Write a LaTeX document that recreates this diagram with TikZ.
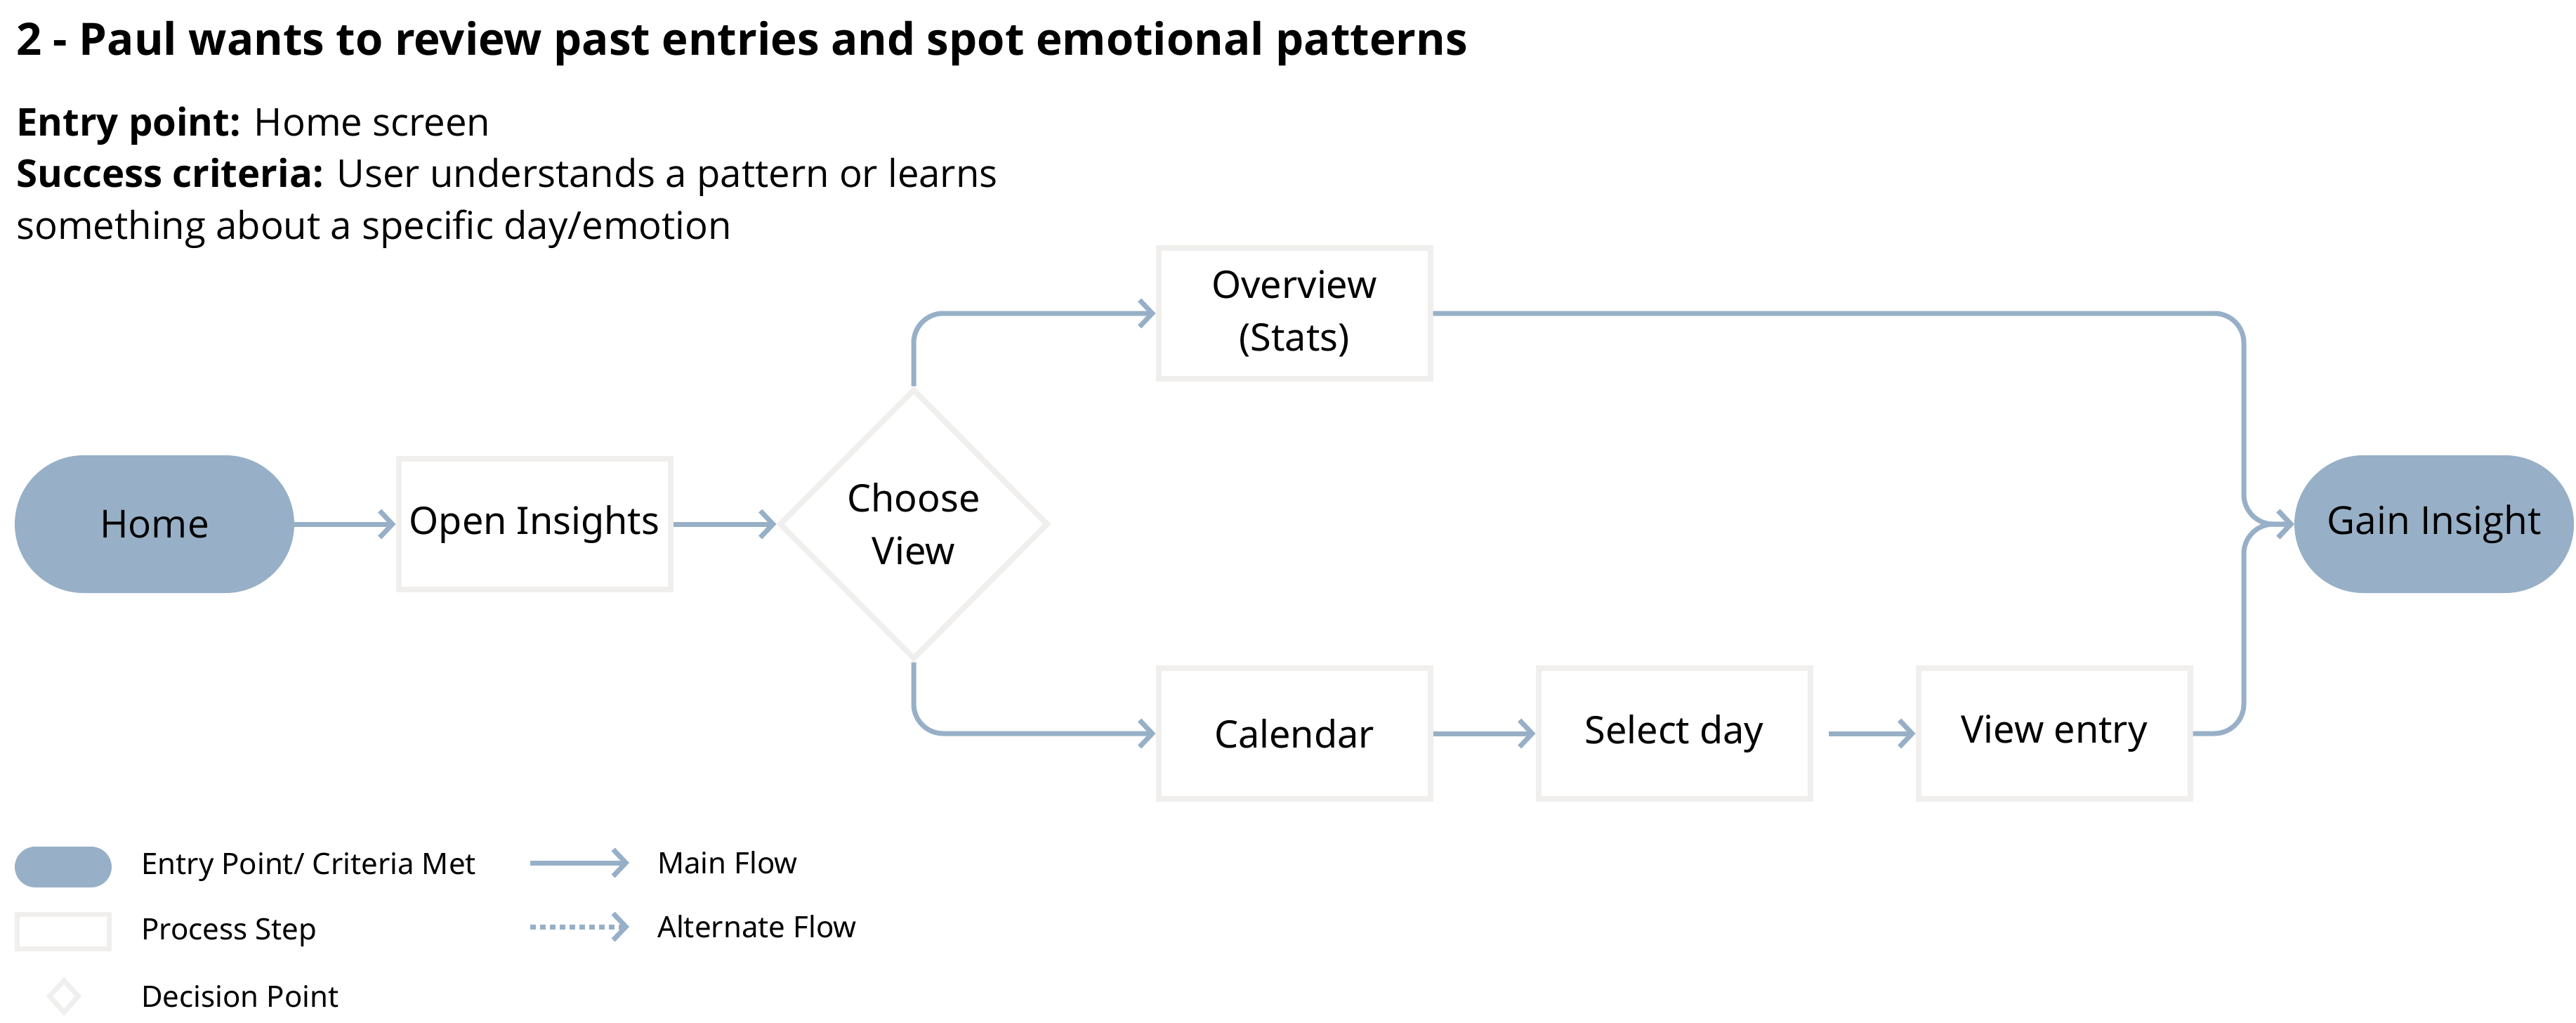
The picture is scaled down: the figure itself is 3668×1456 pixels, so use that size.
\documentclass[tikz,border=0pt]{standalone}
\usepackage{fontspec}
\setmainfont{Noto Sans}
\newfontfamily\headfont{Open Sans}
\usetikzlibrary{arrows.meta,shapes.geometric}
\definecolor{flowblue}{HTML}{97B0C7}
\definecolor{boxgrey}{HTML}{F0EFED}
\begin{document}
\begin{tikzpicture}[x=1pt,y=-1pt,
  procbox/.style={draw=boxgrey, line width=8pt, fill=white, minimum width=387pt, minimum height=186pt, inner sep=0pt, font=\fontsize{54}{75}\selectfont, align=center},
  termnode/.style={fill=flowblue, rounded corners=98pt, minimum width=398pt, minimum height=196pt, inner sep=0pt, font=\headfont\fontsize{55}{75}\selectfont},
  decnode/.style={diamond, draw=boxgrey, line width=8pt, fill=white, minimum width=383pt, minimum height=385pt, inner sep=0pt, font=\fontsize{54}{75}\selectfont, align=center},
  flow/.style={draw=flowblue, line width=7pt, rounded corners=42pt, -{Straight Barb[length=18pt,width=38pt]}},
  infotext/.style={anchor=base west, inner sep=0pt, font=\headfont\fontsize{54.5}{60}\selectfont},
  legtext/.style={anchor=west, inner sep=0pt, font=\fontsize{42}{46}\selectfont}
]
\useasboundingbox (0,0) rectangle (3668,1456);
% header
\node[anchor=base west, inner sep=0pt, font=\headfont\bfseries\fontsize{63.5}{66}\selectfont] (title) at (23,78) {2 - Paul wants to review past entries and spot emotional patterns};
\node[infotext] (info1) at (23,193) {\textbf{Entry point:} Home screen};
\node[infotext] (info2) at (23,266) {\textbf{Success criteria:} User understands a pattern or learns};
\node[infotext] (info3) at (23,340) {something about a specific day/emotion};
% nodes
\node[termnode] (home) at (220,746) {Home};
\node[procbox] (open) at (761,746) {Open Insights};
\node[decnode] (choose) at (1301,746) {Choose\\View};
\node[procbox] (over) at (1843,446) {Overview\\(Stats)};
\node[procbox] (cal) at (1843,1044) {Calendar};
\node[procbox] (sel) at (2384,1044) {Select day};
\node[procbox] (view) at (2925,1044) {View entry};
\node[termnode] (gain) at (3466,746) {Gain Insight};
\coordinate (merge) at (3195,746);
% connectors
\draw[flow] (home) -- (open);
\draw[flow] (open) -- (choose);
\draw[flow] (choose.north) |- (over.west);
\draw[flow] (choose.south) |- (cal.west);
\draw[flow] (cal) -- (sel);
\draw[flow, shorten <=22pt] (sel) -- (view);
\draw[flow] (over.east) -| (merge) -- (gain.west);
\draw[flow] (view.east) -| (merge) -- (gain.west);
% legend
\node[fill=flowblue, rounded corners=29pt, minimum width=138pt, minimum height=58pt, inner sep=0pt] (lgterm) at (90,1234) {};
\node[draw=boxgrey, line width=7pt, minimum width=131pt, minimum height=49pt, inner sep=0pt] (lgproc) at (90,1326) {};
\node[diamond, draw=boxgrey, line width=7pt, minimum width=44pt, minimum height=48pt, inner sep=0pt] (lgdec) at (91,1418) {};
\node[legtext] (lt1) at (201,1234) {Entry Point/ Criteria Met};
\node[legtext] (lt2) at (201,1327) {Process Step};
\node[legtext] (lt3) at (201,1418) {Decision Point};
\coordinate (ma) at (755,1228);
\coordinate (mb) at (896,1228);
\coordinate (aa) at (755,1319);
\coordinate (ab) at (896,1319);
\draw[flow] (ma) -- (mb);
\draw[flow, dash pattern=on 8pt off 6pt] (aa) -- (ab);
\node[legtext] (lt4) at (936,1228) {Main Flow};
\node[legtext] (lt5) at (936,1319) {Alternate Flow};
\end{tikzpicture}
\end{document}
